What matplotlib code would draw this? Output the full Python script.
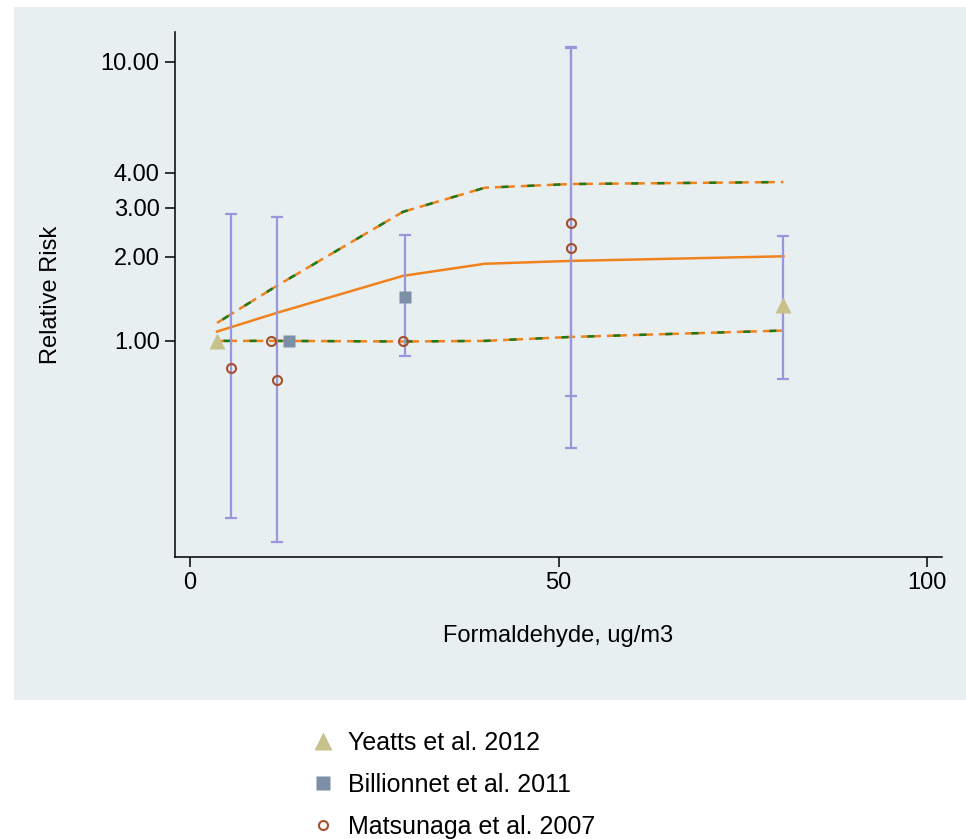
import numpy as np
import matplotlib
matplotlib.use("Agg")
import matplotlib.pyplot as plt
from matplotlib.patches import Rectangle

plt.rcParams['font.family'] = ['Liberation Sans', 'DejaVu Sans']

# ── data ─────────────────────────────────────────────────────────────────────
yeatts_x   = [3.7, 80.5]
yeatts_rr  = [1.00, 1.35]
yeatts_lo  = [np.nan, 0.73]
yeatts_hi  = [np.nan, 2.38]

billi_x    = [13.4, 29.2]
billi_rr   = [1.00, 1.44]
billi_lo   = [np.nan, 0.88]
billi_hi   = [np.nan, 2.40]

matsu_x    = [5.6, 11.0, 11.8, 28.9, 51.7, 51.7]
matsu_rr   = [0.80, 1.00, 0.725, 1.00, 2.65, 2.15]
matsu_lo   = [0.232, np.nan, 0.19, np.nan, 0.635, 0.413]
matsu_hi   = [2.85, np.nan, 2.78, np.nan, 11.3, 11.2]

curve_x    = [3.7, 11.8, 28.9, 40.0, 51.7, 80.5]
curve_rr   = [1.08, 1.26, 1.71, 1.89, 1.935, 2.01]
curve_hi   = [1.16, 1.575, 2.90, 3.54, 3.65, 3.71]
curve_lo   = [1.00, 1.00, 0.995, 1.00, 1.033, 1.089]

y_ticks    = [1, 2, 3, 4, 10]
x_ticks    = [0, 50, 100]

BG      = "#e8eff1"
ORANGE  = "#f0821e"
GREEN   = "#1b7a1b"
PURPLE  = "#9a96dc"
KHAKI   = "#c7c18b"
SLATE   = "#7b8fa6"
SIENNA  = "#a4502f"

fig = plt.figure(figsize=(9.66, 8.39), dpi=100)
fig.patch.set_facecolor("white")
fig.add_artist(Rectangle((14 / 966, 139 / 839), 1 - 14 / 966, 693 / 839,
                         transform=fig.transFigure, facecolor=BG,
                         edgecolor="none", zorder=0))

ax = fig.add_axes([175 / 966, 1 - 557 / 839, (942 - 175) / 966, (557 - 32) / 839])
ax.set_facecolor(BG)
ax.set_yscale("log")

# ── fitted curve and confidence band (orange dashes with green core) ─────────
lw = 1.8
ax.plot(curve_x, curve_rr, color=ORANGE, lw=lw, zorder=2)
for band in (curve_hi, curve_lo):
    ax.plot(curve_x, band, color=ORANGE, lw=lw, linestyle=(0, (8.0, 2.4)), zorder=2)
    ax.plot(curve_x, band, color=GREEN, lw=lw, linestyle=(7.8, (2.8, 7.6)), zorder=2)

# ── error bars ───────────────────────────────────────────────────────────────
def _bars(x, rr, lo, hi):
    x, rr, lo, hi = map(np.asarray, (x, rr, lo, hi))
    ok = ~np.isnan(lo)
    err = np.vstack([rr[ok] - lo[ok], hi[ok] - rr[ok]])
    ax.errorbar(x[ok], rr[ok], yerr=err, fmt="none", ecolor=PURPLE,
                elinewidth=1.6, capsize=4.3, capthick=1.6, zorder=3)

_bars(yeatts_x, yeatts_rr, yeatts_lo, yeatts_hi)
_bars(billi_x, billi_rr, billi_lo, billi_hi)
_bars(matsu_x, matsu_rr, matsu_lo, matsu_hi)

# ── study points ─────────────────────────────────────────────────────────────
ax.plot(yeatts_x, yeatts_rr, "^", ms=11.5, color=KHAKI, mec="none",
        label="Yeatts et al. 2012", zorder=4)
ax.plot(billi_x, billi_rr, "s", ms=9, color=SLATE, mec="none",
        label="Billionnet et al. 2011", zorder=4)
ax.plot(matsu_x, matsu_rr, "o", ms=6.5, mfc="none", mec=SIENNA, mew=1.5,
        label="Matsunaga et al. 2007", zorder=4)

# ── axes ─────────────────────────────────────────────────────────────────────
ax.set_xlim(-2.0, 102.0)
ax.set_ylim(0.168, 12.8)
ax.set_yticks(y_ticks)
ax.set_yticklabels([f"{v:.2f}" for v in y_ticks])
ax.yaxis.set_minor_locator(matplotlib.ticker.NullLocator())
ax.set_xticks(x_ticks)
ax.tick_params(labelsize=17, length=7, width=1.1, pad=4)
for s in ("top", "right"):
    ax.spines[s].set_visible(False)
for s in ("left", "bottom"):
    ax.spines[s].set_linewidth(1.1)
ax.set_xlabel("Formaldehyde, ug/m3", fontsize=17, labelpad=22)
ax.set_ylabel("Relative Risk", fontsize=17, labelpad=28)

h, l = ax.get_legend_handles_labels()
leg = fig.legend(h, l, loc="upper left", bbox_to_anchor=(310 / 966, 1 - 731 / 839),
                 frameon=False, fontsize=18, handlelength=1.0, handletextpad=0.5,
                 labelspacing=0.72, borderpad=0, borderaxespad=0)
# legend keys are drawn a little larger than the plot markers
for hl, ms in zip(leg.legend_handles, (13, 10, 6.5)):
    hl.set_markersize(ms)

fig.savefig("out.png", dpi=100, facecolor="white")
